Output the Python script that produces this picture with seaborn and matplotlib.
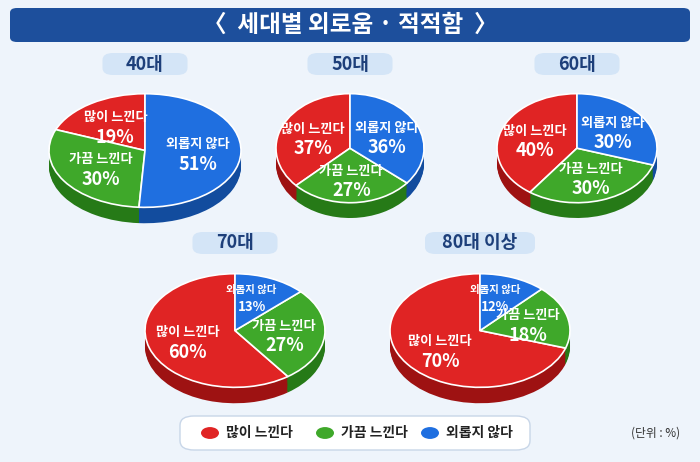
import matplotlib
matplotlib.use("Agg")
import matplotlib.pyplot as plt
import seaborn as sns
import numpy as np
from matplotlib.patches import FancyBboxPatch, Circle

sns.set_theme(style="white")
plt.rcParams['font.family'] = ['Noto Sans CJK KR', 'DejaVu Sans']

groups = ["40대", "50대", "60대", "70대", "80대 이상"]
categories = ["많이 느낀다", "가끔 느낀다", "외롭지 않다"]
many = [19, 37, 40, 60, 70]
some = [30, 27, 30, 27, 18]
none_ = [51, 36, 30, 13, 12]

colors = ["#e02424", "#3fa82a", "#1f6fe0"]
dark = ["#9e1212", "#267a17", "#124c9e"]

W, H = 700, 462
fig = plt.figure(figsize=(7, 4.62), dpi=100)
fig.patch.set_facecolor("#eef4fb")

fig.patches.append(FancyBboxPatch((10/W, 1-42/H), 680/W, 34/H, boxstyle="round,pad=0,rounding_size=0.01",
                                  transform=fig.transFigure, fc="#1d4f9c", ec="none"))
fig.text(0.5, 1-25/H, "〈  세대별 외로움 · 적적함  〉", ha="center", va="center", color="white",
         fontsize=17, fontweight="bold")

# (cx, cy, width, height of top face, header y)
layout = [(145, 142, 240, 125, 64), (350, 140, 185, 120, 64), (577, 140, 200, 120, 64),
          (235, 322, 225, 125, 243), (480, 322, 225, 125, 243)]
for i, (cx, cy, w, h, hy) in enumerate(layout):
    vals = [many[i], some[i], none_[i]]
    ah = h * (2.5 / 2.2)
    ax = fig.add_axes([(cx - w/2)/W, (H - cy)/H - 0.56*ah/H, w/W, ah/H])
    ax.set_xlim(-1.1, 1.1); ax.set_ylim(-1.4, 1.1); ax.axis("off")
    for k in range(14, 0, -1):
        ax.pie(vals, colors=dark, startangle=90, counterclock=True, center=(0, -0.02*k),
               wedgeprops=dict(linewidth=0), radius=1)
    ax.pie(vals, colors=colors, startangle=90, counterclock=True, center=(0, 0),
           wedgeprops=dict(linewidth=1.2, edgecolor="white"), radius=1)
    ax.set_aspect("auto")
    start = 90
    for v, lab in zip(vals, categories):
        mid = np.deg2rad(start + v * 3.6 / 2)
        start += v * 3.6
        small = v < 15
        d = 0.62 if small else 0.55
        x, y = d*np.cos(mid), d*np.sin(mid)
        if small:
            x *= 0.75
        ax.text(x, y + 0.14, lab, ha="center", va="center", color="white",
                fontsize=7.5 if small else 9.5, fontweight="bold")
        ax.text(x, y - (0.16 if small else 0.22), f"{v}%", ha="center", va="center", color="white",
                fontsize=9.5 if small else 13, fontweight="bold")
    pw = 85 if i < 4 else 110
    fig.patches.append(FancyBboxPatch(((cx - pw/2)/W, 1-(hy+11)/H), pw/W, 22/H,
                                      boxstyle="round,pad=0,rounding_size=0.015",
                                      transform=fig.transFigure, fc="#d4e5f7", ec="none"))
    fig.text(cx/W, 1-hy/H, groups[i], ha="center", va="center", fontsize=13,
             fontweight="bold", color="#1d3f7a")

fig.patches.append(FancyBboxPatch((180/W, 1-450/H), 350/W, 34/H, boxstyle="round,pad=0,rounding_size=0.02",
                                  transform=fig.transFigure, fc="white", ec="#c8d6e8"))
for x0, lab, c in zip([210, 325, 430], categories, colors):
    fig.patches.append(Circle((x0/W, 1-433/H), 9/W, transform=fig.transFigure, fc=c, ec="none"))
    fig.text((x0+16)/W, 1-433/H, lab, va="center", fontsize=10, fontweight="bold", color="#222222")
fig.text(680/W, 1-433/H, "(단위 : %)", ha="right", va="center", fontsize=8.5, color="#333333")

fig.savefig("out.png", dpi=100, facecolor=fig.get_facecolor())
